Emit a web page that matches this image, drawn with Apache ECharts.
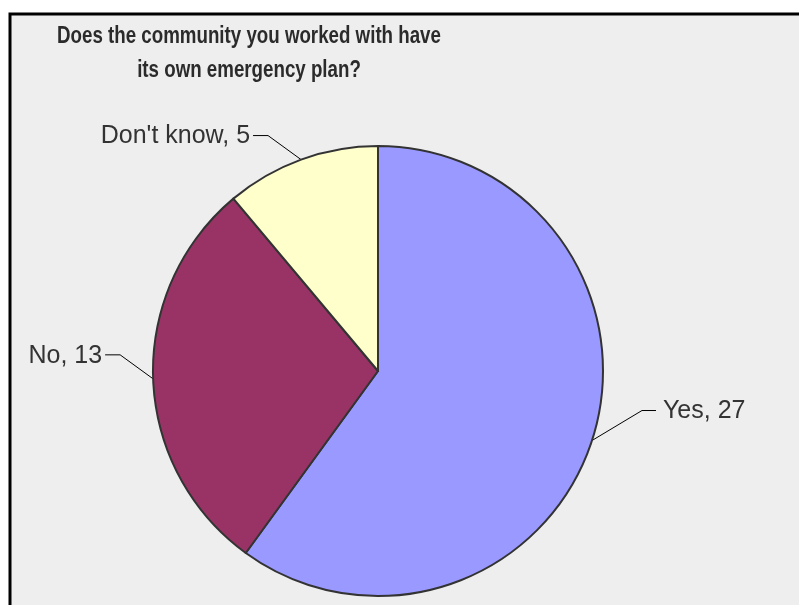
<!DOCTYPE html>
<html>
<head>
<meta charset="utf-8">
<script src="https://cdn.jsdelivr.net/npm/echarts@6/dist/echarts.min.js"></script>
<style>
  html, body { margin: 0; padding: 0; background: #ffffff; }
  #main { width: 799px; height: 605px; }
</style>
</head>
<body>
<div id="main"></div>
<script>
var categories = ['Yes', 'No', "Don't know"];
var counts = [27, 13, 5];
var colors = ['#9999ff', '#993366', '#ffffcc'];
var titleLines = ['Does the community you worked with have', 'its own emergency plan?'];

var chart = echarts.init(document.getElementById('main'), null, { renderer: 'canvas' });

// leader line offsets (Excel style: short slanted segment then a horizontal tick)
function leader(params) {
  var p0 = params.labelLinePoints[0];
  var right = p0[0] > 378;
  var dx = right ? 50 : -33;
  var dy = right ? -30 : -24;
  var h = right ? 14 : -15;
  var p1 = [p0[0] + dx, p0[1] + dy];
  var p2 = [p1[0] + h, p1[1]];
  return {
    x: p2[0] + (right ? 7 : -3),
    y: p2[1] + 1,
    align: right ? 'left' : 'right',
    verticalAlign: 'middle',
    labelLinePoints: [p0, p1, p2]
  };
}

chart.setOption({
  animation: false,
  backgroundColor: '#ffffff',
  graphic: [{
    type: 'rect',
    z: -10,
    shape: { x: 10, y: 14, width: 900, height: 700 },
    style: { fill: '#eeeeee', stroke: '#000000', lineWidth: 3 }
  }, {
    // condensed bold title
    type: 'text',
    x: 249,
    y: 19,
    scaleX: 0.78,
    z: 10,
    style: {
      text: titleLines.join('\n'),
      font: 'bold 24px "Liberation Sans"',
      lineHeight: 34,
      fill: '#2b2b2b',
      align: 'center',
      verticalAlign: 'top'
    }
  }],
  series: [{
    type: 'pie',
    center: [378, 371],
    radius: 225,
    startAngle: 90,
    clockwise: true,
    data: categories.map(function (c, i) {
      return { name: c, value: counts[i], itemStyle: { color: colors[i] } };
    }),
    itemStyle: { borderColor: '#333333', borderWidth: 2 },
    label: {
      show: true,
      formatter: '{b}, {c}',
      fontFamily: 'Liberation Sans',
      fontSize: 25,
      color: '#333333'
    },
    labelLine: {
      show: true,
      length: 20,
      length2: 15,
      lineStyle: { color: '#000000', width: 1 }
    },
    labelLayout: leader,
    emphasis: { disabled: true }
  }]
});
</script>
</body>
</html>
